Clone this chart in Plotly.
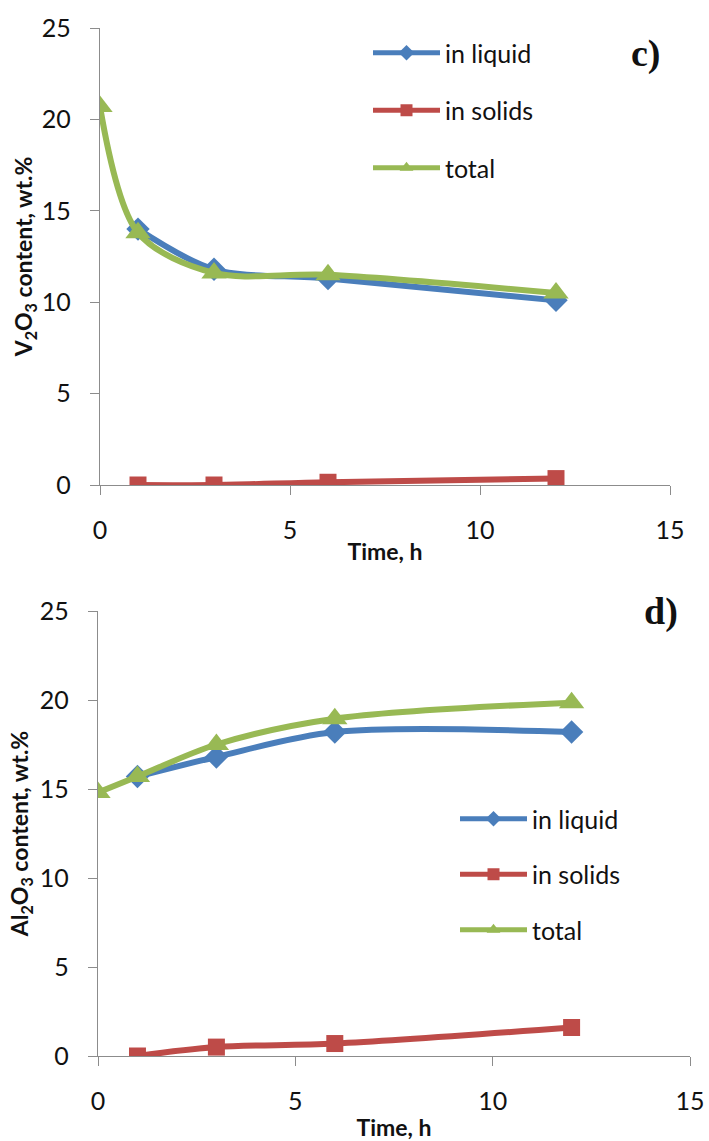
import plotly.graph_objects as go

# ---------------- data ----------------
time_total = [0, 1, 3, 6, 12]
time_liquid = [1, 3, 6, 12]
time_solids = [1, 3, 6, 12]

v_liquid = [14.0, 11.8, 11.3, 10.1]
v_solids = [0.0, 0.0, 0.15, 0.35]
v_total = [20.7, 13.8, 11.6, 11.5, 10.5]

a_liquid = [15.7, 16.8, 18.2, 18.2]
a_solids = [0.0, 0.5, 0.7, 1.6]
a_total = [14.8, 15.7, 17.5, 18.95, 19.85]

x_ticks = [0, 5, 10, 15]
y_ticks = [0, 5, 10, 15, 20, 25]

series_names = ["in liquid", "in solids", "total"]
BLUE = "#4A7EBB"
RED = "#BE4B48"
GREEN = "#98B954"

W, H = 709, 1141
FONT = "Lato"

fig = go.Figure()

def add_panel(xa, ya, legend, liquid, solids, total):
    common = dict(xaxis=xa, yaxis=ya, legend=legend, mode="lines+markers",
                  line_shape="spline")
    fig.add_trace(go.Scatter(x=time_liquid, y=liquid, name=series_names[0], legendgroup=legend + "a",
                             line=dict(color=BLUE, width=6, smoothing=0.9),
                             marker=dict(symbol="diamond", size=18, color=BLUE), **common))
    fig.add_trace(go.Scatter(x=time_solids, y=solids, name=series_names[1], legendgroup=legend + "b",
                             line=dict(color=RED, width=6, smoothing=0.9),
                             marker=dict(symbol="square", size=17, color=RED), **common))
    fig.add_trace(go.Scatter(x=time_total, y=total, name=series_names[2], legendgroup=legend + "c",
                             line=dict(color=GREEN, width=6, smoothing=0.9),
                             marker=dict(symbol="triangle-up", size=22, color=GREEN), **common))

add_panel("x", "y", "legend", v_liquid, v_solids, v_total)
add_panel("x2", "y2", "legend2", a_liquid, a_solids, a_total)

axis_common = dict(showgrid=False, zeroline=False, showline=True, linecolor="#8C8C8C",
                   linewidth=1.3, ticks="outside", ticklen=9, tickcolor="#8C8C8C",
                   tickwidth=1.3, tickfont=dict(family=FONT, size=25, color="#111"),
                   ticklabelstandoff=14, automargin=False)

title_font = dict(family=FONT, size=23, color="#111", weight="bold")

fig.update_layout(
    width=W, height=H, margin=dict(l=0, r=0, t=0, b=0, autoexpand=False),
    plot_bgcolor="white", paper_bgcolor="white",
    xaxis=dict(domain=[100 / W, 670 / W], range=[0, 15], tickvals=x_ticks, anchor="y",
               title=dict(text="Time, h", font=title_font, standoff=0), **axis_common),
    yaxis=dict(domain=[1 - 485 / H, 1 - 28 / H], range=[0, 25], tickvals=y_ticks, anchor="x",
               title=dict(text="V<sub>2</sub>O<sub>3</sub> content, wt.%", font=title_font, standoff=2),
               **axis_common),
    xaxis2=dict(domain=[98 / W, 690 / W], range=[0, 15], tickvals=x_ticks, anchor="y2",
                title=dict(text="Time, h", font=title_font, standoff=10), **axis_common),
    yaxis2=dict(domain=[1 - 1056 / H, 1 - 611 / H], range=[0, 25], tickvals=y_ticks, anchor="x2",
                title=dict(text="Al<sub>2</sub>O<sub>3</sub> content, wt.%", font=title_font, standoff=4),
                **axis_common),
    legend=dict(x=368 / W, y=1 - 30 / H, xanchor="left", yanchor="top",
                font=dict(family=FONT, size=25, color="#111"), tracegroupgap=22,
                itemwidth=67, itemsizing="constant", bgcolor="rgba(0,0,0,0)"),
    legend2=dict(x=455 / W, y=1 - 796 / H, xanchor="left", yanchor="top",
                 font=dict(family=FONT, size=25, color="#111"), tracegroupgap=20,
                 itemwidth=67, itemsizing="constant", bgcolor="rgba(0,0,0,0)"),
    annotations=[
        dict(text="<b>c)</b>", x=646 / W, y=1 - 30 / H, xref="paper", yref="paper",
             xanchor="center", showarrow=False,
             font=dict(family="Liberation Serif", size=38, color="#111")),
        dict(text="<b>d)</b>", x=661 / W, y=1 - 611 / H, xref="paper", yref="paper",
             xanchor="center", showarrow=False,
             font=dict(family="Liberation Serif", size=38, color="#111")),
    ],
    showlegend=True,
)

fig.write_html("out.html")
